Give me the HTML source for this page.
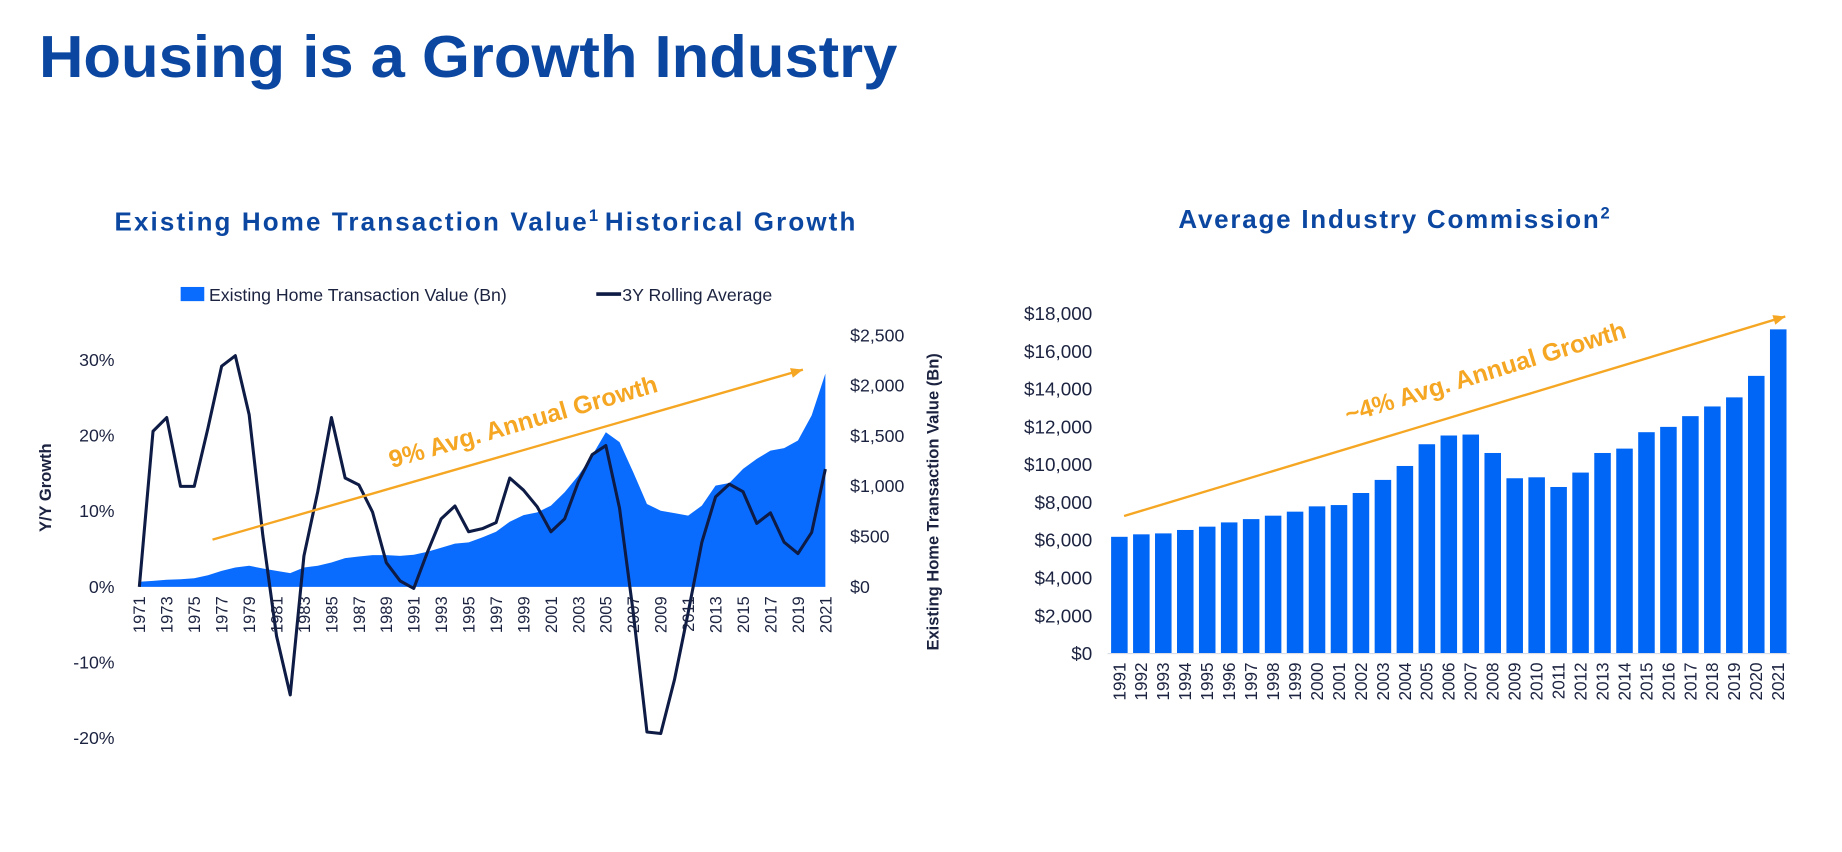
<!DOCTYPE html>
<html><head><meta charset="utf-8"><style>
html,body{margin:0;padding:0;background:#fff;}
svg{display:block;font-family:"Liberation Sans",sans-serif;}
</style></head><body>
<svg id="root" width="1842" height="852" viewBox="0 0 1560 721.5">
<text x="33" y="65" font-size="50" font-weight="bold" fill="#0b47a1" textLength="727" lengthAdjust="spacingAndGlyphs">Housing is a Growth Industry</text>
<text x="97" y="195" font-size="22" font-weight="bold" fill="#0b47a1" letter-spacing="1.8">Existing Home Transaction Value<tspan dy="-8" font-size="14">1</tspan><tspan dy="8" dx="4">Historical Growth</tspan></text>
<text x="998" y="193" font-size="22" font-weight="bold" fill="#0b47a1" letter-spacing="1.5">Average Industry Commission<tspan dy="-8" font-size="14">2</tspan></text>
<g id="left"></g>
<g id="right"></g>
</svg>
<script>
const years = [];
for (let y = 1971; y <= 2021; y++) years.push(y);
const txValue = [50,60,70,76,86,116,160,193,210,183,160,136,193,210,243,286,302,316,316,309,319,349,389,429,442,492,548,648,714,741,807,940,1106,1306,1538,1439,1140,824,757,734,708,807,1007,1033,1173,1272,1355,1379,1455,1704,2120];
const rollingAvg = [0,20.6,22.4,13.3,13.3,21,29.2,30.6,22.8,6.8,-6.5,-14.3,4.1,12.6,22.4,14.4,13.5,9.9,3.2,0.8,-0.2,4.6,9,10.7,7.3,7.7,8.5,14.4,12.8,10.6,7.3,9,13.9,17.5,18.7,10.4,-3.4,-19.2,-19.4,-12.3,-3.4,5.9,11.9,13.6,12.6,8.4,9.8,5.9,4.4,7.2,15.6];
const leftTicks = [-20,-10,0,10,20,30];
const rightTicks = [0,500,1000,1500,2000,2500];
const commYears = [];
for (let y = 1991; y <= 2021; y++) commYears.push(y);
const commission = [6150,6280,6330,6510,6690,6910,7090,7270,7480,7760,7830,8470,9160,9900,11050,11510,11560,10590,9250,9300,8790,9550,10590,10820,11690,11970,12540,13050,13530,14670,17130];
const commTicks = [0,2000,4000,6000,8000,10000,12000,14000,16000,18000];

const NS = "http://www.w3.org/2000/svg";
function mk(tag, attrs, parent, txt){const e=document.createElementNS(NS,tag);for(const k in attrs)e.setAttribute(k,attrs[k]);if(txt!==undefined)e.textContent=txt;parent.appendChild(e);return e;}
const fmt = n => n.toLocaleString("en-US");
const L = document.getElementById("left");
const xL = y => 118 + (y-1971)*(699-118)/50;
const yPct = v => 497 - v*6.4;
const yBn = v => 497 - v*(213/2500);

let d = "M"+xL(1971)+","+yBn(0);
txValue.forEach((v,i)=>{d+=" L"+xL(years[i]).toFixed(1)+","+yBn(v).toFixed(1);});
d += " L"+xL(2021)+","+yBn(0)+" Z";
let area = mk("path",{d:d,fill:"#0a6cff"},L);


let pts = rollingAvg.map((v,i)=>xL(years[i]).toFixed(1)+","+yPct(v).toFixed(1)).join(" ");
let line = mk("polyline",{points:pts,fill:"none",stroke:"#0d1b45","stroke-width":2.6,"stroke-linejoin":"round"},L);


leftTicks.forEach(t=>{
  const e = mk("text",{x:97,y:yPct(t)+5,"font-size":15,fill:"#1c2340","text-anchor":"end"},L,t+"%");
  
  
});
rightTicks.forEach(t=>{
  const e = mk("text",{x:720,y:yBn(t)+5,"font-size":15,fill:"#1c2340"},L,"$"+fmt(t));
  
  
});
years.forEach(y=>{ if((y-1971)%2) return;
  const x = xL(y)+5;
  const e = mk("text",{x:x,y:505,"font-size":14,fill:"#1c2340","text-anchor":"end",transform:"rotate(-90 "+x+" 505)"},L,y);
  
  
});
let yt = mk("text",{x:43,y:413,"font-size":14,"font-weight":"bold",fill:"#1c2340","text-anchor":"middle",transform:"rotate(-90 43 413)"},L,"Y/Y Growth");


let yt2 = mk("text",{x:795,y:425,"font-size":14,"font-weight":"bold",fill:"#1c2340","text-anchor":"middle",transform:"rotate(-90 795 425)"},L,"Existing Home Transaction Value (Bn)");


let lg1 = mk("rect",{x:153,y:243,width:20,height:12,fill:"#0a6cff"},L);


let lt1 = mk("text",{x:177,y:255,"font-size":15,fill:"#1c2340"},L,"Existing Home Transaction Value (Bn)");


let lg2 = mk("line",{x1:505,y1:249,x2:526,y2:249,stroke:"#0d1b45","stroke-width":3},L);


let lt2 = mk("text",{x:527,y:255,"font-size":15,fill:"#1c2340"},L,"3Y Rolling Average");


function arrow(parent,x1,y1,x2,y2,name){
  const g = mk("g",{},parent);
  
  
  mk("line",{x1:x1,y1:y1,x2:x2,y2:y2,stroke:"#f5a623","stroke-width":2},g);
  const a = Math.atan2(y2-y1,x2-x1), s=11;
  const p = [[x2,y2],[x2-s*Math.cos(a-0.4),y2-s*Math.sin(a-0.4)],[x2-s*Math.cos(a+0.4),y2-s*Math.sin(a+0.4)]];
  mk("polygon",{points:p.map(q=>q.join(",")).join(" "),fill:"#f5a623"},g);
}
arrow(L,180,457,680,313,'left-growth-arrow');
let gt = mk("text",{x:445,y:364,"font-size":21,"font-weight":"bold",fill:"#f5a623","text-anchor":"middle",transform:"rotate(-16 445 364)"},L,"9% Avg. Annual Growth");



const R = document.getElementById("right");
const xR = i => 948 + i*(1506-948)/30;
const yC = v => 553 - v*(288/18000);
commTicks.forEach(t=>{
  const e = mk("text",{x:925,y:yC(t)+6,"font-size":16,fill:"#1c2340","text-anchor":"end"},R,"$"+fmt(t));
  
  
});
commission.forEach((v,i)=>{
  const b = mk("rect",{x:(xR(i)-7).toFixed(1),y:yC(v).toFixed(1),width:14,height:(553-yC(v)).toFixed(1),fill:"#0066f5"},R);
  
  
  const x = xR(i)+5;
  const e = mk("text",{x:x,y:561,"font-size":14.5,fill:"#1c2340","text-anchor":"end",transform:"rotate(-90 "+x+" 561)"},R,commYears[i]);
  
  
});
let base = mk("line",{x1:938,y1:553.5,x2:1516,y2:553.5,stroke:"#d8dce6","stroke-width":1},R);


arrow(R,952,437,1512,268,'right-growth-arrow');
let gt2 = mk("text",{x:1260,y:322,"font-size":21,"font-weight":"bold",fill:"#f5a623","text-anchor":"middle",transform:"rotate(-17 1260 322)"},R,"~4% Avg. Annual Growth");


</script>
</body></html>
